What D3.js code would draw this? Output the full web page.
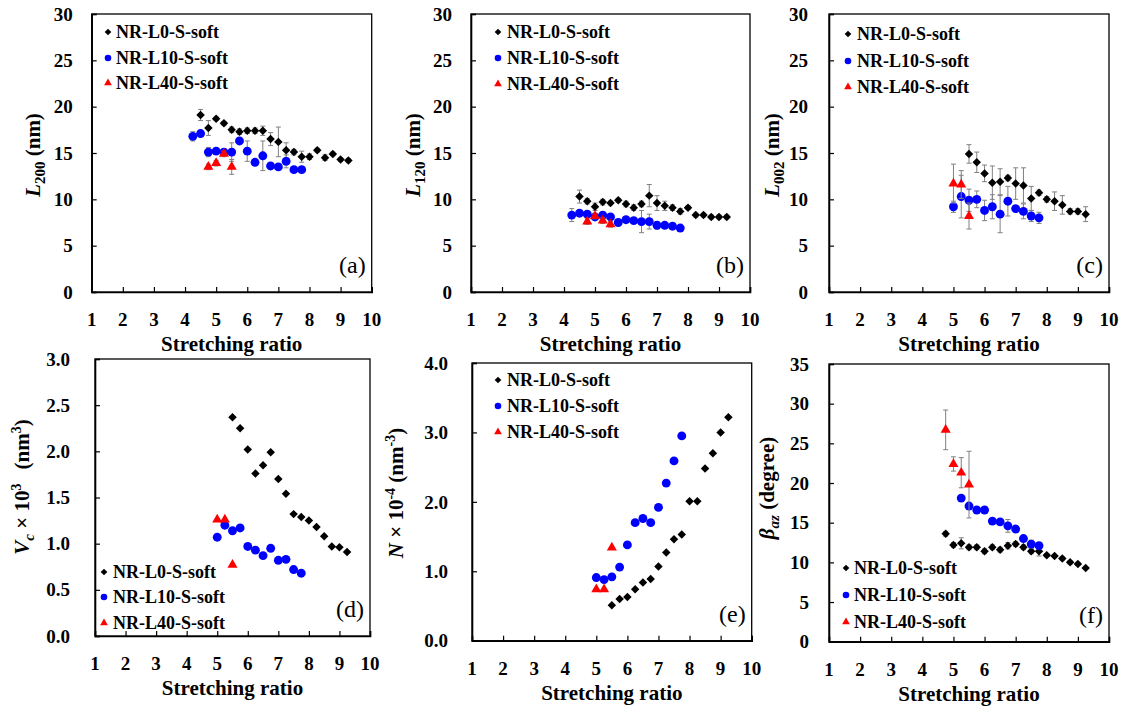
<!DOCTYPE html>
<html>
<head>
<meta charset="utf-8">
<script src="https://cdn.jsdelivr.net/npm/d3@7"></script>
<style>
  body { margin: 0; background: #fff; }
  svg { display: block; }
</style>
</head>
<body>
<svg id="chart" width="1124" height="707"></svg>
<script>
// stretching ratios per series
const xL0_a = [4.5, 4.75, 5, 5.25, 5.5, 5.75, 6, 6.25, 6.5, 6.75, 7, 7.25, 7.5, 7.75, 8, 8.25, 8.5, 8.75, 9, 9.25]
const xL10_a = [4.25, 4.5, 4.75, 5, 5.25, 5.5, 5.75, 6, 6.25, 6.5, 6.75, 7, 7.25, 7.5, 7.75]
const xL40_a = [4.75, 5, 5.25, 5.5]
const xL0_c = [5.5, 5.75, 6, 6.25, 6.5, 6.75, 7, 7.25, 7.5, 7.75, 8, 8.25, 8.5, 8.75, 9, 9.25]
const xL10_c = [5, 5.25, 5.5, 5.75, 6, 6.25, 6.5, 6.75, 7, 7.25, 7.5, 7.75]
const xL40_c = [5, 5.25, 5.5]
const xL0_f = [4.75, 5, 5.25, 5.5, 5.75, 6, 6.25, 6.5, 6.75, 7, 7.25, 7.5, 7.75, 8, 8.25, 8.5, 8.75, 9, 9.25]
const xL10_f = [5.25, 5.5, 5.75, 6, 6.25, 6.5, 6.75, 7, 7.25, 7.5, 7.75]
const xL40_f = [4.75, 5, 5.25, 5.5]

// (a) L200
const yL0_a = [19.1, 17.7, 18.7, 18.2, 17.5, 17.3, 17.4, 17.4, 17.4, 16.5, 16.2, 15.3, 15.1, 14.6, 14.6, 15.3, 14.5, 14.9, 14.3, 14.2]
const eL0_a = [0.6, 0.8, 0.2, 0.2, 0.3, 0.3, 0.3, 0.3, 0.5, 0.7, 1.6, 0.8, 0.3, 0.6, 0.3, 0.2, 0.3, 0.2, 0.2, 0.2]
const yL10_a = [16.8, 17.1, 15.1, 15.2, 15.1, 15.1, 16.3, 15.2, 14.0, 14.7, 13.6, 13.5, 14.1, 13.2, 13.2]
const eL10_a = [0.5, 0.3, 0.5, 0.3, 0.3, 1.0, 0.3, 1.1, 0.3, 1.6, 0.3, 0.3, 0.7, 0.3, 0.3]
const yL40_a = [13.5, 13.9, 14.9, 13.5]
const eL40_a = [0.3, 0.3, 0.3, 0.8]

// (b) L120
const yL0_b = [10.3, 9.8, 9.2, 9.7, 9.6, 9.9, 9.5, 9.1, 9.5, 10.4, 9.6, 9.3, 9.1, 8.7, 9.1, 8.3, 8.3, 8.1, 8.1, 8.1]
const eL0_b = [0.7, 0.3, 0.4, 0.3, 0.2, 0.2, 0.3, 0.3, 0.3, 1.2, 0.8, 0.5, 0.3, 0.3, 0.2, 0.2, 0.2, 0.2, 0.2, 0.2]
const yL10_b = [8.3, 8.5, 8.4, 8.1, 8.3, 8.1, 7.5, 7.8, 7.7, 7.6, 7.6, 7.2, 7.2, 7.1, 6.9]
const eL10_b = [0.7, 0.3, 0.3, 0.3, 0.3, 0.3, 0.2, 0.2, 0.3, 1.2, 0.8, 0.4, 0.2, 0.2, 0.2]
const yL40_b = [7.6, 8.2, 7.7, 7.3]
const eL40_b = [0.3, 0.3, 0.3, 0.3]

// (c) L002
const yL0_c = [14.9, 14.0, 12.8, 11.8, 11.9, 12.3, 11.7, 11.5, 10.1, 10.7, 10.0, 9.8, 9.4, 8.7, 8.7, 8.4]
const eL0_c = [1.0, 1.1, 0.9, 1.8, 1.4, 0.3, 1.7, 1.9, 1.3, 0.3, 0.3, 1.0, 1.0, 0.3, 0.3, 0.8]
const yL10_c = [9.2, 10.3, 9.9, 10.0, 8.8, 9.2, 8.4, 9.8, 9.0, 8.7, 8.2, 8.0]
const eL10_c = [0.6, 2.3, 1.2, 0.9, 1.1, 1.3, 2.0, 1.6, 0.3, 0.8, 0.6, 0.6]
const yL40_c = [11.7, 11.6, 8.2]
const eL40_c = [2.1, 1.5, 1.4]

// (d) Vc x 10^3
const yL0_d = [2.37, 2.25, 2.02, 1.76, 1.85, 1.99, 1.70, 1.54, 1.32, 1.29, 1.25, 1.18, 1.08, 0.97, 0.96, 0.91]
const yL10_d = [1.07, 1.20, 1.14, 1.17, 0.97, 0.93, 0.87, 0.95, 0.82, 0.83, 0.72, 0.68]
const yL40_d = [1.26, 1.26, 0.77]

// (e) N x 10^-4
const yL0_e = [0.51, 0.60, 0.63, 0.74, 0.84, 0.89, 1.07, 1.27, 1.46, 1.53, 2.01, 2.01, 2.48, 2.70, 3.00, 3.22]
const yL10_e = [0.91, 0.88, 0.92, 1.06, 1.38, 1.70, 1.76, 1.70, 1.92, 2.27, 2.59, 2.95]
const yL40_e = [0.74, 0.74, 1.34]

// (f) beta_az
const yL0_f = [13.6, 12.2, 12.4, 11.9, 11.9, 11.4, 11.9, 11.6, 12.1, 12.3, 11.9, 11.4, 11.4, 10.9, 10.8, 10.5, 10.0, 9.8, 9.3]
const eL0_f = [0.3, 0.3, 0.7, 0.3, 0.3, 0.3, 0.3, 0.3, 0.4, 0.3, 0.3, 0.3, 0.6, 0.2, 0.2, 0.2, 0.2, 0.2, 0.2]
const yL10_f = [18.1, 17.1, 16.6, 16.6, 15.2, 15.1, 14.6, 14.2, 13.0, 12.3, 12.1]
const eL10_f = [0.3, 0.3, 0.3, 0.3, 0.3, 0.3, 0.8, 0.3, 0.3, 0.5, 0.3]
const yL40_f = [26.7, 22.4, 21.3, 19.8]
const eL40_f = [2.5, 0.9, 1.9, 4.2]

const seriesNames = ["NR-L0-S-soft", "NR-L10-S-soft", "NR-L40-S-soft"]
const xTicks = [1, 2, 3, 4, 5, 6, 7, 8, 9, 10]
const yTicksL = [0, 5, 10, 15, 20, 25, 30]
const yTicksV = [0, 0.5, 1.0, 1.5, 2.0, 2.5, 3.0]
const yTicksN = [0, 1.0, 2.0, 3.0, 4.0]
const yTicksB = [0, 5, 10, 15, 20, 25, 30, 35]

const FONT = "Liberation Serif"
const colors = ["#000000", "#0000ff", "#ff0000"]

function zip(xs, ys, es) {
    return xs.map((x, i) => ({x: x, y: ys[i], e: es ? es[i] : 0}))
}

function labelL(sub) {
    return function (t) {
        t.append("tspan").attr("font-style", "italic").text("L")
        t.append("tspan").attr("font-size", 15).attr("dy", 5).text(sub)
        t.append("tspan").attr("dy", -5).text(" (nm)")
    }
}

const panels = [
    {tag: "(a)", box: [91.7, 14, 371.7, 292], yMax: 30, yTicks: yTicksL, fmt: d3.format("d"), pad: 19,
     series: [zip(xL0_a, yL0_a, eL0_a), zip(xL10_a, yL10_a, eL10_a), zip(xL40_a, yL40_a, eL40_a)],
     legend: {mx: 108, tx: 116, ys: [32, 58, 83]}, ylab: {x: 33, y: 155, draw: labelL("200")}},
    {tag: "(b)", box: [471, 14, 750, 292], yMax: 30, yTicks: yTicksL, fmt: d3.format("d"), pad: 19,
     series: [zip(xL0_a, yL0_b, eL0_b), zip(xL10_a, yL10_b, eL10_b), zip(xL40_a, yL40_b, eL40_b)],
     legend: {mx: 498, tx: 507, ys: [32, 58, 84]}, ylab: {x: 413, y: 155, draw: labelL("120")}},
    {tag: "(c)", box: [829, 14, 1109, 292], yMax: 30, yTicks: yTicksL, fmt: d3.format("d"), pad: 21,
     series: [zip(xL0_c, yL0_c, eL0_c), zip(xL10_c, yL10_c, eL10_c), zip(xL40_c, yL40_c, eL40_c)],
     legend: {mx: 848, tx: 857, ys: [34, 61, 87]}, ylab: {x: 772, y: 155, draw: labelL("002")}},
    {tag: "(d)", box: [95, 359, 370, 636], yMax: 3, yTicks: yTicksV, fmt: d3.format(".1f"), pad: 25,
     series: [zip(xL0_c, yL0_d), zip(xL10_c, yL10_d), zip(xL40_c, yL40_d)],
     legend: {mx: 104, tx: 113, ys: [572, 597, 623]}, ylab: {x: 22, y: 487, draw: function (t) {
        t.append("tspan").attr("font-style", "italic").text("V")
        t.append("tspan").attr("font-style", "italic").attr("font-size", 15).attr("dy", 5).text("c")
        t.append("tspan").attr("dy", -5).text(" × 10")
        t.append("tspan").attr("font-size", 14).attr("dy", -8).text("3")
        t.append("tspan").attr("dy", 8).attr("dx", 14).text("(nm")
        t.append("tspan").attr("font-size", 14).attr("dy", -8).text("3")
        t.append("tspan").attr("dy", 8).text(")")
     }}},
    {tag: "(e)", box: [472, 363, 751.7, 640.7], yMax: 4, yTicks: yTicksN, fmt: d3.format(".1f"), pad: 24,
     series: [zip(xL0_c, yL0_e), zip(xL10_c, yL10_e), zip(xL40_c, yL40_e)],
     legend: {mx: 498, tx: 507, ys: [380, 406, 432]}, ylab: {x: 396, y: 493, draw: function (t) {
        t.append("tspan").attr("font-style", "italic").text("N")
        t.append("tspan").text(" × 10")
        t.append("tspan").attr("font-size", 14).attr("dy", -8).text("-4")
        t.append("tspan").attr("dy", 8).text(" (nm")
        t.append("tspan").attr("font-size", 14).attr("dy", -8).text("-3")
        t.append("tspan").attr("dy", 8).text(")")
     }}},
    {tag: "(f)", box: [829, 364, 1109, 641.7], yMax: 35, yTicks: yTicksB, fmt: d3.format("d"), pad: 20,
     series: [zip(xL0_f, yL0_f, eL0_f), zip(xL10_f, yL10_f, eL10_f), zip(xL40_f, yL40_f, eL40_f)],
     legend: {mx: 846, tx: 854, ys: [568, 595, 622]}, ylab: {x: 767, y: 488, draw: function (t) {
        t.append("tspan").attr("font-style", "italic").text("β")
        t.append("tspan").attr("font-style", "italic").attr("font-size", 15).attr("dy", 5).text("az")
        t.append("tspan").attr("dy", -5).text(" (degree)")
     }}}
]

const svg = d3.select("#chart")

function marker(g, k, big) {
    if (k === 0) {
        g.append("path")
            .attr("d", d3.symbol(d3.symbolSquare, big ? 36 : 22)())
            .attr("transform", "rotate(45)")
            .attr("fill", colors[0])
    } else if (k === 1) {
        g.append("path")
            .attr("d", d3.symbol(d3.symbolCircle, big ? 62 : 34)())
            .attr("fill", colors[1])
    } else {
        g.append("path")
            .attr("d", d3.symbol(d3.symbolTriangle, big ? 44 : 26)())
            .attr("fill", colors[2])
    }
}

function txt(g) {
    return g.append("text").attr("font-family", FONT)
}

panels.forEach(p => {
    const [x0, y0, x1, y1] = p.box
    const x = d3.scaleLinear().domain([1, 10]).range([x0, x1])
    const y = d3.scaleLinear().domain([0, p.yMax]).range([y1, y0])
    const g = svg.append("g")

    // frame
    g.append("rect")
        .attr("x", x0).attr("y", y0)
        .attr("width", x1 - x0).attr("height", y1 - y0)
        .attr("fill", "none")
        .attr("stroke", "#000")
        .attr("stroke-width", 1.3)

    // axes, ticks pointing inward
    const xAxis = g.append("g")
        .attr("transform", `translate(0,${y1})`)
        .call(d3.axisTop(x).tickValues(xTicks).tickSize(5).tickFormat(""))
    xAxis.select(".domain").attr("stroke-width", 1.6)
    xAxis.selectAll(".tick line").attr("stroke-width", 1.2)

    const yAxis = g.append("g")
        .attr("transform", `translate(${x0},0)`)
        .call(d3.axisRight(y).tickValues(p.yTicks).tickSize(5).tickFormat(""))
    yAxis.select(".domain").attr("stroke-width", 1.6)
    yAxis.selectAll(".tick line").attr("stroke-width", 1.2)

    xTicks.forEach(d => {
        txt(g)
            .attr("x", x(d))
            .attr("y", y1 + 34)
            .attr("text-anchor", "middle")
            .attr("font-size", 19)
            .attr("font-weight", "bold")
            .text(d)
    })

    p.yTicks.forEach(d => {
        txt(g)
            .attr("x", x0 - p.pad)
            .attr("y", y(d))
            .attr("dy", "0.35em")
            .attr("text-anchor", "end")
            .attr("font-size", 19)
            .attr("font-weight", "bold")
            .text(p.fmt(d))
    })

    txt(g)
        .attr("x", (x0 + x1) / 2)
        .attr("y", y1 + 59)
        .attr("text-anchor", "middle")
        .attr("font-size", 21)
        .attr("font-weight", "bold")
        .text("Stretching ratio")

    const yl = txt(g)
        .attr("transform", `translate(${p.ylab.x},${p.ylab.y}) rotate(-90)`)
        .attr("text-anchor", "middle")
        .attr("dy", "0.35em")
        .attr("font-size", 21)
        .attr("font-weight", "bold")
    p.ylab.draw(yl)

    txt(g)
        .attr("x", x1 - 6)
        .attr("y", y1 - 19)
        .attr("text-anchor", "end")
        .attr("font-size", 24)
        .text(p.tag)

    // data: error bars then markers, series in order
    p.series.forEach((s, k) => {
        const eb = g.append("g")
            .attr("stroke", "#808080")
            .attr("stroke-width", 1)
        s.filter(d => d.e > 0).forEach(d => {
            const cx = x(d.x)
            eb.append("line").attr("x1", cx).attr("x2", cx).attr("y1", y(d.y - d.e)).attr("y2", y(d.y + d.e))
            eb.append("line").attr("x1", cx - 2.5).attr("x2", cx + 2.5).attr("y1", y(d.y - d.e)).attr("y2", y(d.y - d.e))
            eb.append("line").attr("x1", cx - 2.5).attr("x2", cx + 2.5).attr("y1", y(d.y + d.e)).attr("y2", y(d.y + d.e))
        })
        g.append("g").selectAll("g")
            .data(s)
            .join("g")
                .attr("transform", d => `translate(${x(d.x)},${y(d.y)})`)
                .each(function () { marker(d3.select(this), k, true) })
    })

    // legend
    seriesNames.forEach((name, k) => {
        const lg = g.append("g")
            .attr("transform", `translate(${p.legend.mx},${p.legend.ys[k]})`)
        marker(lg, k, false)
        txt(g)
            .attr("x", p.legend.tx)
            .attr("y", p.legend.ys[k])
            .attr("dy", "0.35em")
            .attr("font-size", 18)
            .attr("font-weight", "bold")
            .text(name)
    })
})
</script>
</body>
</html>
